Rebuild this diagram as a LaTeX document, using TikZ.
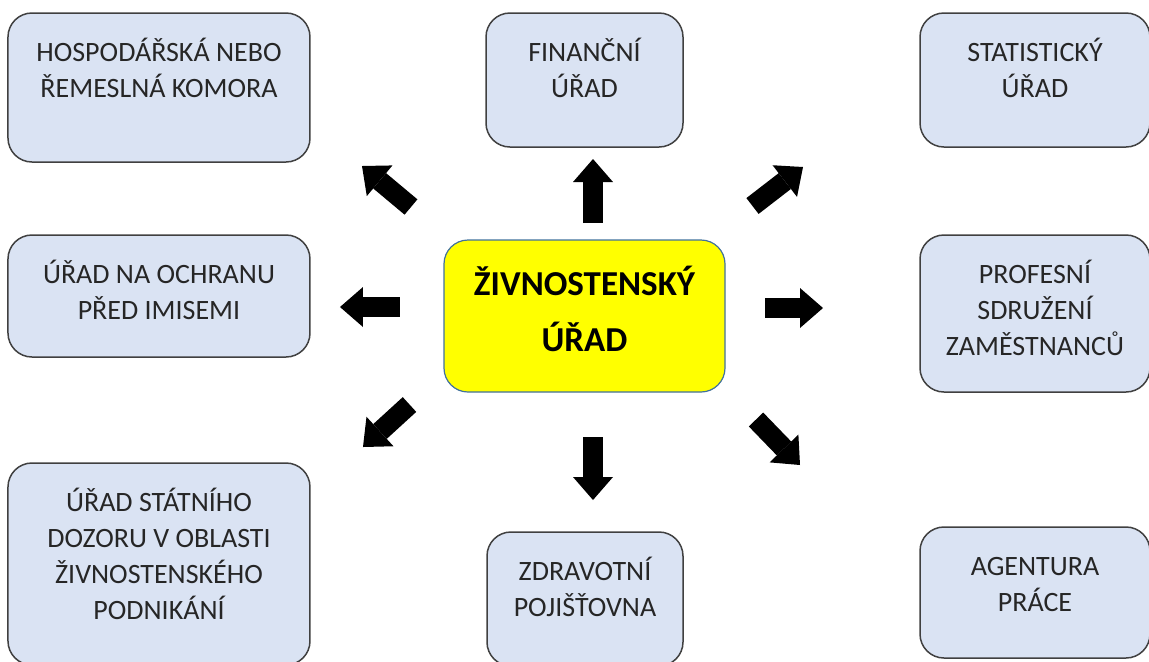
\documentclass[tikz,border=0pt]{standalone}
\usepackage{fontspec}
\setmainfont{Carlito}
\usepackage{tikz}
\usetikzlibrary{arrows.meta}
\definecolor{boxfill}{RGB}{218,227,243}
\definecolor{boxline}{RGB}{64,64,64}
\definecolor{hubfill}{RGB}{255,255,0}
\definecolor{hubline}{RGB}{65,113,156}
\tikzstyle{block} = [rectangle, draw=boxline, fill=boxfill, rounded corners=12pt,
align=flush center, text=black!85, inner sep=0pt, text height=24pt, line width=0.75pt,
font=\fontsize{14pt}{18pt}\selectfont]
\tikzstyle{hub} = [rectangle, draw=hubline, fill=hubfill, rounded corners=12pt,
text width=140.5pt, align=flush center, inner sep=0pt, text height=27.5pt, text depth=48.5pt,
line width=0.6pt, font=\fontsize{17.5pt}{28pt}\selectfont\bfseries]
\tikzstyle{line} = [draw, -{Triangle[width=20pt, length=11.5pt, line width=0pt]}, line width=10pt]

\begin{document}
\begin{tikzpicture}
% Page
	\useasboundingbox (-292.25pt,-172.5pt) rectangle (282.25pt,158pt);
	\clip (-292.25pt,-172.5pt) rectangle (282.25pt,158pt);

% Place nodes
	\node [hub] (zivno) {ŽIVNOSTENSKÝ\\ÚŘAD};
	\node [block, node distance=118pt, above of=zivno, xshift=0pt, text width=98.5pt, text depth=43pt] (financ) {FINANČNÍ\\ÚŘAD};
	\node [block, node distance=212.75pt, left of=zivno, yshift=114.25pt, text width=151pt, text depth=50.5pt] (hosp) {HOSPODÁŘSKÁ NEBO\\ŘEMESLNÁ KOMORA};
	\node [block, node distance=225.25pt, right of=zivno, yshift=118pt, text width=115pt, text depth=43pt] (stat) {STATISTICKÝ\\ÚŘAD};
	\node [block, node distance=212.75pt, left of=zivno, yshift=10pt, text width=151pt, text depth=37pt] (ochr) {ÚŘAD NA OCHRANU\\PŘED IMISEMI};
	\node [block, node distance=225.25pt, right of=zivno, yshift=1.25pt, text width=115pt, text depth=54.5pt] (prof) {PROFESNÍ\\SDRUŽENÍ\\ZAMĚSTNANCŮ};
	\node [block, node distance=212.75pt, left of=zivno, yshift=-124pt, text width=151pt, text depth=77pt] (dozor) {ÚŘAD STÁTNÍHO\\DOZORU V OBLASTI\\ŽIVNOSTENSKÉHO\\PODNIKÁNÍ};
	\node [block, node distance=141.5pt, below of=zivno, xshift=0.25pt, text width=98pt, text depth=43pt] (zdrav) {ZDRAVOTNÍ\\POJIŠŤOVNA};
	\node [block, node distance=225.25pt, right of=zivno, yshift=-138.25pt, text width=115pt, text depth=41.5pt] (agent) {AGENTURA\\PRÁCE};

% Arrow ends
	\coordinate (sFin) at (4.25pt,46.5pt);    \coordinate (eFin) at (4.25pt,78.5pt);
	\coordinate (sZdr) at (4.25pt,-60.5pt);   \coordinate (eZdr) at (4.25pt,-92pt);
	\coordinate (sOch) at (-92.25pt,4.5pt);   \coordinate (eOch) at (-122.25pt,4.5pt);
	\coordinate (sPro) at (90.25pt,4pt);      \coordinate (ePro) at (119.25pt,4pt);
	\coordinate (sHos) at (-86.75pt,54.5pt);  \coordinate (eHos) at (-111.25pt,75pt);
	\coordinate (sSta) at (84pt,55pt);        \coordinate (eSta) at (109.25pt,74.5pt);
	\coordinate (sDoz) at (-87.5pt,-44.25pt); \coordinate (eDoz) at (-110.75pt,-65.5pt);
	\coordinate (sAge) at (85.75pt,-51.75pt); \coordinate (eAge) at (107.75pt,-74.5pt);

% Draw edges
	\path [line] (sFin) -- (eFin);
	\path [line] (sZdr) -- (eZdr);
	\path [line] (sOch) -- (eOch);
	\path [line] (sPro) -- (ePro);
	\path [line] (sHos) -- (eHos);
	\path [line] (sSta) -- (eSta);
	\path [line] (sDoz) -- (eDoz);
	\path [line] (sAge) -- (eAge);

\end{tikzpicture}
\end{document}
